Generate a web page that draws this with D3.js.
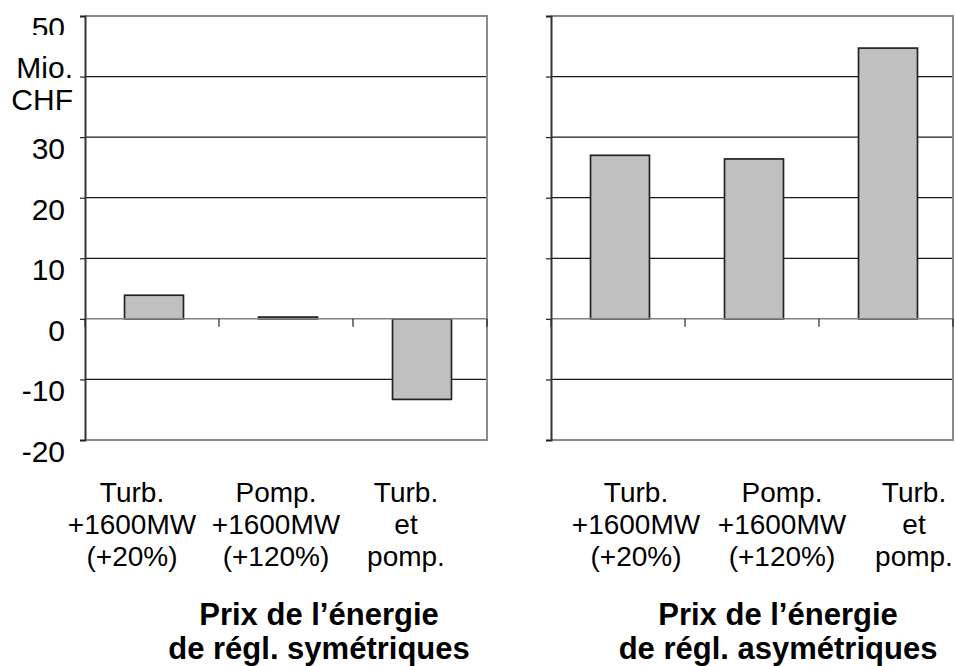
<!DOCTYPE html>
<html>
<head>
<meta charset="utf-8">
<script src="https://cdn.jsdelivr.net/npm/d3@7"></script>
<style>
  html, body { margin: 0; padding: 0; background: #fff; }
  svg { display: block; font-family: "Liberation Sans", Arial, sans-serif; }
</style>
</head>
<body>
<svg id="chart" width="955" height="666"></svg>
<script>
// Mio. CHF per scenario, under symmetric and asymmetric balancing-energy prices
const categories = ["Turb.", "Pomp.", "Turb. et pomp."];
const categoryLines = [
  ["Turb.", "+1600MW", "(+20%)"],
  ["Pomp.", "+1600MW", "(+120%)"],
  ["Turb.", "et", "pomp."]
];
const valuesSymmetric = [3.9, 0.3, -13.3];
const valuesAsymmetric = [27.0, 26.4, 44.7];
const yTicks = [50, 40, 30, 20, 10, 0, -10, -20];
const yTickLabels = ["50", "", "30", "20", "10", "0", "-10", "-20"];
const yUnit = ["Mio.", "CHF"];
const titleSymmetric = ["Prix de l\u2019\u00e9nergie", "de r\u00e9gl. sym\u00e9triques"];
const titleAsymmetric = ["Prix de l\u2019\u00e9nergie", "de r\u00e9gl. asym\u00e9triques"];

const svg = d3.select("#chart");
const plotTop = 16, plotBottom = 440;
const y = d3.scaleLinear().domain([-20, 50]).range([plotBottom, plotTop]);

const panels = [
  { x0: 85, x1: 487, values: valuesSymmetric, title: titleSymmetric,
    labelShift: [-22, -12, -16], titleX: 319, showLabels: true },
  { x0: 551, x1: 953, values: valuesAsymmetric, title: titleAsymmetric,
    labelShift: [16, 28, 26], titleX: 778, showLabels: false }
];

panels.forEach(p => {
  const g = svg.append("g");
  const x = d3.scaleBand().domain(categories).range([p.x0 + 2, p.x1 + 2])
    .paddingInner(0.56).paddingOuter(0.28);
  const step = x.step();

  // horizontal gridlines
  g.append("g").selectAll("line").data(yTicks.filter(t => t !== 0 && t !== 50 && t !== -20))
    .join("line")
    .attr("x1", p.x0).attr("x2", p.x1)
    .attr("y1", d => y(d)).attr("y2", d => y(d))
    .attr("stroke", "#1a1a1a").attr("stroke-width", 1.2);

  // plot area border (top, right, bottom)
  g.append("path")
    .attr("d", `M${p.x0},${y(50)}H${p.x1}V${y(-20)}H${p.x0}`)
    .attr("fill", "none").attr("stroke", "#8a8a8a").attr("stroke-width", 2);

  // bars
  g.append("g").selectAll("rect").data(p.values)
    .join("rect")
    .attr("x", (d, i) => x(categories[i]))
    .attr("width", x.bandwidth())
    .attr("y", d => y(Math.max(0, d)))
    .attr("height", d => Math.max(1, Math.abs(y(d) - y(0))))
    .attr("fill", "#c0c0c0")
    .attr("stroke", "#222").attr("stroke-width", 1.7);

  // category axis on zero line, with ticks between categories
  g.append("line")
    .attr("x1", p.x0).attr("x2", p.x1)
    .attr("y1", y(0)).attr("y2", y(0))
    .attr("stroke", "#808080").attr("stroke-width", 1.5);
  g.append("g").selectAll("line").data(d3.range(categories.length + 1))
    .join("line")
    .attr("x1", i => p.x0 + i * step).attr("x2", i => p.x0 + i * step)
    .attr("y1", y(0)).attr("y2", y(0) + 8)
    .attr("stroke", "#222").attr("stroke-width", 1.2);

  // value axis
  const axis = d3.axisLeft(y).tickValues(yTicks).tickSize(5).tickFormat("");
  const ag = g.append("g").attr("transform", `translate(${p.x0},0)`).call(axis);
  ag.select(".domain").attr("stroke", "#333").attr("stroke-width", 2);
  ag.selectAll(".tick line").attr("stroke", "#222").attr("stroke-width", 1.2);

  // category labels
  const lg = g.append("g").attr("font-size", 28).attr("fill", "#000").attr("text-anchor", "middle");
  categories.forEach((c, i) => {
    const cx = x(c) + x.bandwidth() / 2 + p.labelShift[i];
    categoryLines[i].forEach((line, j) => {
      lg.append("text").attr("x", cx).attr("y", 502 + j * 32).text(line);
    });
  });

  // panel title
  const tg = g.append("g").attr("font-size", 31).attr("font-weight", "bold").attr("text-anchor", "middle");
  p.title.forEach((line, j) => {
    tg.append("text").attr("x", p.titleX).attr("y", 625 + j * 34).text(line);
  });

  if (p.showLabels) {
    const yl = svg.append("g").attr("font-size", 30).attr("text-anchor", "end");
    yl.selectAll("text").data(yTicks)
      .join("text")
      .attr("x", 65).attr("y", d => y(d) + 22)
      .text((d, i) => yTickLabels[i]);
    // unit label sits on a white box over the upper tick labels
    svg.append("rect").attr("x", 4).attr("y", 35).attr("width", 74).attr("height", 80).attr("fill", "#fff");
    const ul = svg.append("g").attr("font-size", 30).attr("text-anchor", "end");
    yUnit.forEach((t, j) => ul.append("text").attr("x", 73).attr("y", 78 + j * 32).text(t));
  }
});
</script>
</body>
</html>
